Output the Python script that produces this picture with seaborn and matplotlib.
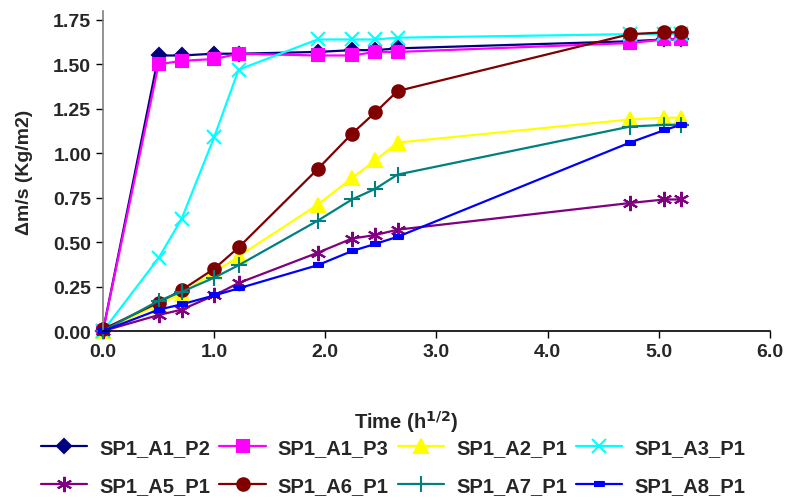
import matplotlib
matplotlib.use("Agg")
import matplotlib.pyplot as plt
import seaborn as sns
import pandas as pd

sns.set_style("white")
plt.rcParams['font.family'] = ['Liberation Sans', 'DejaVu Sans']
plt.rcParams['font.weight'] = 'bold'

# time in h^(1/2)
time_sqrt = [0.0, 0.5, 0.707, 1.0, 1.22, 1.93, 2.24, 2.45, 2.65, 4.74, 5.05, 5.2]

a1_p2 = [0.00, 1.55, 1.55, 1.56, 1.56, 1.57, 1.58, 1.58, 1.59, 1.63, 1.64, 1.64]
a1_p3 = [0.00, 1.50, 1.52, 1.53, 1.56, 1.55, 1.55, 1.57, 1.57, 1.62, 1.64, 1.64]
a2_p1 = [0.00, 0.15, 0.21, 0.33, 0.42, 0.71, 0.86, 0.96, 1.06, 1.19, 1.20, 1.20]
a3_p1 = [0.00, 0.41, 0.63, 1.09, 1.47, 1.64, 1.64, 1.64, 1.65, 1.67, 1.67, 1.67]
a5_p1 = [0.00, 0.09, 0.12, 0.20, 0.27, 0.44, 0.52, 0.54, 0.57, 0.72, 0.74, 0.74]
a6_p1 = [0.01, 0.16, 0.23, 0.35, 0.47, 0.91, 1.11, 1.23, 1.35, 1.67, 1.68, 1.68]
a7_p1 = [0.00, 0.17, 0.22, 0.30, 0.37, 0.62, 0.74, 0.80, 0.88, 1.15, 1.16, 1.16]
a8_p1 = [0.00, 0.12, 0.15, 0.20, 0.24, 0.37, 0.45, 0.49, 0.53, 1.06, 1.13, 1.16]

names = ["SP1_A1_P2", "SP1_A1_P3", "SP1_A2_P1", "SP1_A3_P1",
         "SP1_A5_P1", "SP1_A6_P1", "SP1_A7_P1", "SP1_A8_P1"]
series = [a1_p2, a1_p3, a2_p1, a3_p1, a5_p1, a6_p1, a7_p1, a8_p1]

colors = ["#000080", "#FF00FF", "#FFFF00", "#00FFFF",
          "#800080", "#800000", "#008080", "#0000FF"]
dash_marker = [(-1, -0.45), (1, -0.45), (1, 0.45), (-1, 0.45)]
markers = ["D", "s", "^", "x", (6, 2, 0), "o", "+", dash_marker]
msizes = [7, 8, 10, 10, 11, 9, 11, 7]

fig = plt.figure(figsize=(7.88, 5.02), dpi=100)
ax = fig.add_axes([0.1307, 0.3386, 0.8463, 0.6374])

for name, vals, c, m, ms in zip(names, series, colors, markers, msizes):
    df = pd.DataFrame({"t": time_sqrt, "v": vals})
    sns.lineplot(data=df, x="t", y="v", ax=ax, color=c, marker=m,
                 markersize=ms, markeredgecolor=c, markeredgewidth=1.5,
                 linewidth=1.6, sort=False, label=name, clip_on=False)

ax.set_xlim(0, 6)
ax.set_ylim(0, 1.8)
ax.set_xticks([0, 1, 2, 3, 4, 5, 6])
ax.set_xticklabels([f"{v:.1f}" for v in range(7)])
ax.set_yticks([0, 0.25, 0.5, 0.75, 1.0, 1.25, 1.5, 1.75])
ax.set_yticklabels([f"{v:.2f}" for v in [0, 0.25, 0.5, 0.75, 1.0, 1.25, 1.5, 1.75]])
ax.tick_params(axis="both", labelsize=14, length=5, width=1, direction="out",
               left=True, bottom=True, color="black")
for s in ["top", "right"]:
    ax.spines[s].set_visible(False)
ax.spines["left"].set_color("#808080")
ax.spines["bottom"].set_color("black")
for s in ["left", "bottom"]:
    ax.spines[s].set_linewidth(1.2)
ax.grid(False)

ax.set_xlabel("Time (h$^{\\mathbf{1/2}}$)", fontsize=14.5, fontweight="bold")
ax.xaxis.set_label_coords(0.454, -0.24)
ax.set_ylabel("Δm/s (Kg/m2)", fontsize=14, fontweight="bold")
ax.yaxis.set_label_coords(-0.105, 0.5)

handles, labels = ax.get_legend_handles_labels()
ax.get_legend().remove()
order = [0, 4, 1, 5, 2, 6, 3, 7]
fig.legend([handles[i] for i in order], [labels[i] for i in order],
           loc="center", bbox_to_anchor=(0.499, 0.068), ncol=4, frameon=False,
           fontsize=14.5, handlelength=2.3, columnspacing=0.45, handletextpad=0.6,
           labelspacing=0.95)

fig.savefig("out.png", dpi=100)
